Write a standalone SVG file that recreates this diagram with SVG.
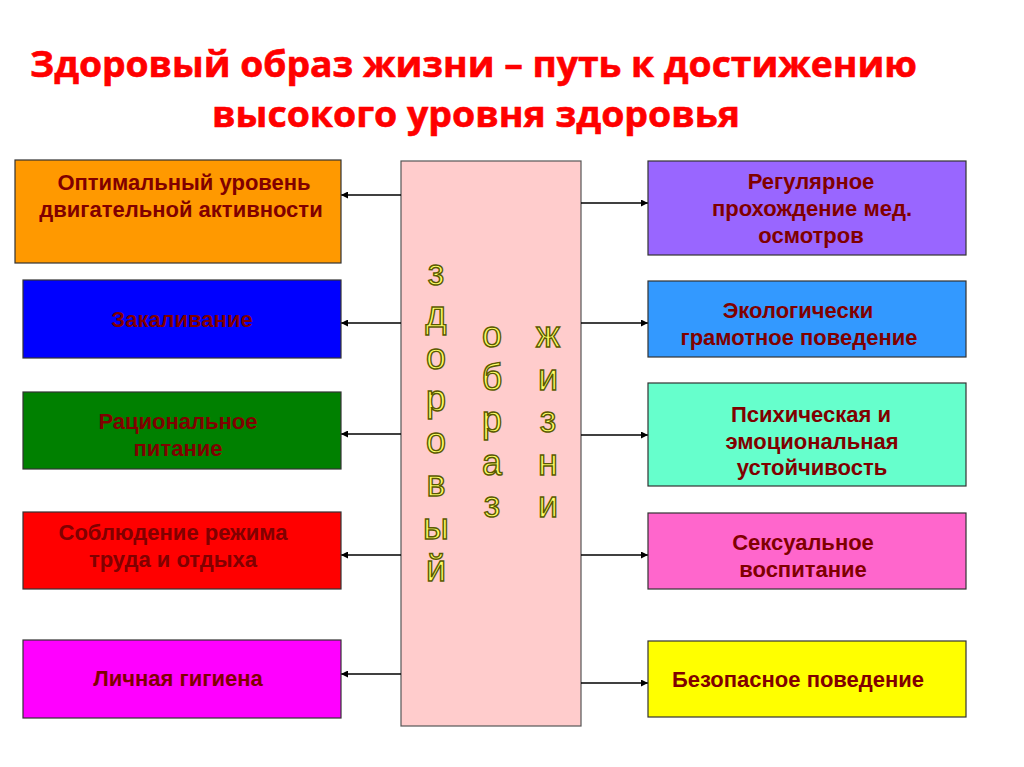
<svg xmlns="http://www.w3.org/2000/svg" width="1024" height="767" viewBox="0 0 1024 767">
<defs>
<marker id="ah" viewBox="0 0 10 10" refX="10" refY="5" markerWidth="8" markerHeight="7" markerUnits="userSpaceOnUse" orient="auto">
<path d="M0,0 L10,5 L0,10 z" fill="#000"/>
</marker>
</defs>
<style>
.title{font-family:"Open Sans","Liberation Sans",sans-serif;font-weight:bold;font-size:35px;fill:#ff0000;stroke:#ff0000;stroke-width:0.6}
.box{stroke:#333;stroke-width:1.2}
.lbl{font-family:"Liberation Sans",Arial,sans-serif;font-weight:bold;font-size:22px;fill:#800000;text-anchor:middle}
.let{font-family:"Liberation Sans",Arial,sans-serif;font-size:36px;fill:#ffff66;stroke:#5a5a00;stroke-width:1.4;text-anchor:middle}
.conn{stroke:#000;stroke-width:1.5;fill:none}
</style>
<rect width="1024" height="767" fill="#ffffff"/>
<g id="title">
<text class="title" x="30" y="77" textLength="887" lengthAdjust="spacingAndGlyphs">Здоровый образ жизни – путь к достижению</text>
<text class="title" x="212" y="127" textLength="528" lengthAdjust="spacingAndGlyphs">высокого уровня здоровья</text>
</g>
<g id="center">
<rect x="401" y="161" width="180" height="565" fill="#ffcccc" stroke="#555" stroke-width="1.2"/>
<text class="let" x="436" y="285">з</text>
<text class="let" x="436" y="327">д</text>
<text class="let" x="436" y="369">о</text>
<text class="let" x="436" y="411">р</text>
<text class="let" x="436" y="453">о</text>
<text class="let" x="436" y="496">в</text>
<text class="let" x="436" y="539">ы</text>
<text class="let" x="436" y="581">й</text>
<text class="let" x="492" y="347">о</text>
<text class="let" x="492" y="390">б</text>
<text class="let" x="492" y="432">р</text>
<text class="let" x="492" y="475">а</text>
<text class="let" x="492" y="517">з</text>
<text class="let" x="548" y="347">ж</text>
<text class="let" x="548" y="390">и</text>
<text class="let" x="548" y="432">з</text>
<text class="let" x="548" y="475">н</text>
<text class="let" x="548" y="517">и</text>
</g>
<g id="connectors">
<line class="conn" x1="401" y1="195" x2="341" y2="195" marker-end="url(#ah)"/>
<line class="conn" x1="401" y1="323" x2="341" y2="323" marker-end="url(#ah)"/>
<line class="conn" x1="401" y1="434" x2="341" y2="434" marker-end="url(#ah)"/>
<line class="conn" x1="401" y1="555" x2="341" y2="555" marker-end="url(#ah)"/>
<line class="conn" x1="401" y1="674" x2="341" y2="674" marker-end="url(#ah)"/>
<line class="conn" x1="581" y1="203" x2="648" y2="203" marker-end="url(#ah)"/>
<line class="conn" x1="581" y1="323" x2="648" y2="323" marker-end="url(#ah)"/>
<line class="conn" x1="581" y1="435" x2="648" y2="435" marker-end="url(#ah)"/>
<line class="conn" x1="581" y1="555" x2="648" y2="555" marker-end="url(#ah)"/>
<line class="conn" x1="581" y1="683" x2="648" y2="683" marker-end="url(#ah)"/>
</g>
<g id="l1">
<rect class="box" x="15" y="160" width="326" height="103" fill="#ff9900"/>
<text class="lbl" x="184" y="190">Оптимальный уровень</text>
<text class="lbl" x="181" y="217">двигательной активности</text>
</g>
<g id="l2">
<rect class="box" x="23" y="280" width="318" height="78" fill="#0000ff"/>
<text class="lbl" x="182" y="327">Закаливание</text>
</g>
<g id="l3">
<rect class="box" x="23" y="392" width="318" height="77" fill="#008000"/>
<text class="lbl" x="178" y="429">Рациональное</text>
<text class="lbl" x="178" y="456">питание</text>
</g>
<g id="l4">
<rect class="box" x="23" y="512" width="318" height="77" fill="#ff0000"/>
<text class="lbl" x="173" y="540">Соблюдение режима</text>
<text class="lbl" x="173" y="567">труда и отдыха</text>
</g>
<g id="l5">
<rect class="box" x="23" y="640" width="318" height="78" fill="#ff00ff"/>
<text class="lbl" x="178" y="686">Личная гигиена</text>
</g>
<g id="r1">
<rect class="box" x="648" y="161" width="318" height="94" fill="#9966ff"/>
<text class="lbl" x="811" y="189">Регулярное</text>
<text class="lbl" x="812" y="216">прохождение мед.</text>
<text class="lbl" x="811" y="243">осмотров</text>
</g>
<g id="r2">
<rect class="box" x="648" y="281" width="318" height="76" fill="#3399ff"/>
<text class="lbl" x="798" y="318">Экологически</text>
<text class="lbl" x="799" y="345">грамотное поведение</text>
</g>
<g id="r3">
<rect class="box" x="648" y="383" width="318" height="103" fill="#66ffcc"/>
<text class="lbl" x="811" y="422">Психическая и</text>
<text class="lbl" x="812" y="449">эмоциональная</text>
<text class="lbl" x="812" y="475">устойчивость</text>
</g>
<g id="r4">
<rect class="box" x="648" y="513" width="318" height="76" fill="#ff66cc"/>
<text class="lbl" x="803" y="550">Сексуальное</text>
<text class="lbl" x="803" y="577">воспитание</text>
</g>
<g id="r5">
<rect class="box" x="648" y="641" width="318" height="76" fill="#ffff00"/>
<text class="lbl" x="798" y="687">Безопасное поведение</text>
</g>
</svg>
